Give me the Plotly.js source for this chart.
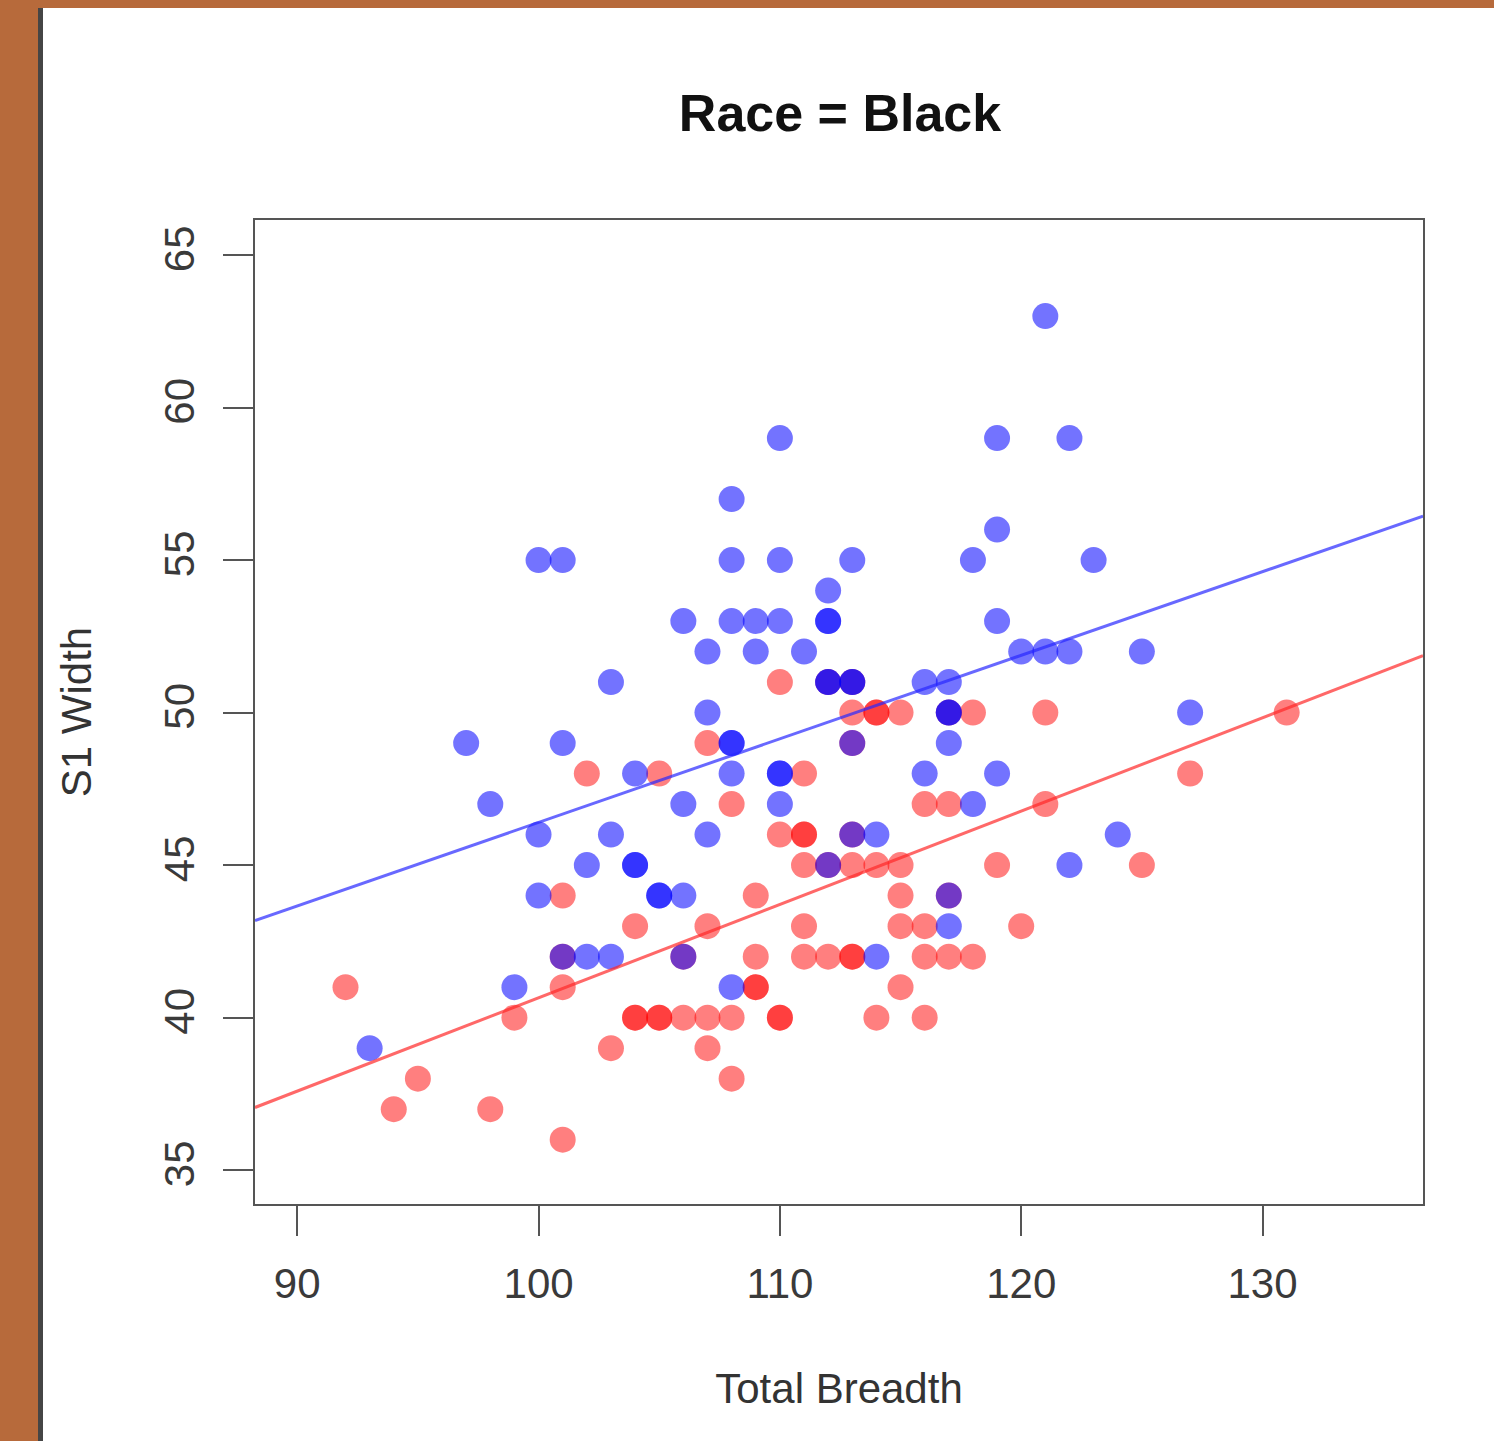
<!DOCTYPE html>
<html><head><meta charset="utf-8">
<script src="https://cdn.plot.ly/plotly-3.0.1.min.js"></script>
<style>
html,body{margin:0;padding:0;width:1494px;height:1441px;overflow:hidden;background:#b76a3b;}
#panel{position:absolute;left:38px;top:8px;width:1456px;height:1433px;background:#fff;border-left:5px solid #454545;box-sizing:border-box;}
#chart{position:absolute;left:0;top:0;width:1494px;height:1441px;}
</style></head><body>
<div id="panel"></div>
<div id="chart"></div>
<script>
// Red group (Total Breadth, S1 Width)
var redX = [110,112,113,
  113,114,114,115,117,118,121,131,
  107,113,
  102,105,111,127,
  108,116,117,121,
  110,111,111,113,
  111,112,113,114,115,119,125,
  101,109,115,117,
  104,107,111,115,116,120,
  101,106,109,111,112,113,113,116,117,118,
  92,101,109,109,115,
  99,104,104,105,105,106,107,108,110,110,114,116,
  103,107,
  95,108,
  94,98,
  101];
var redY = [51,51,51,
  50,50,50,50,50,50,50,50,
  49,49,
  48,48,48,48,
  47,47,47,47,
  46,46,46,46,
  45,45,45,45,45,45,45,
  44,44,44,44,
  43,43,43,43,43,43,
  42,42,42,42,42,42,42,42,42,42,
  41,41,41,41,41,
  40,40,40,40,40,40,40,40,40,40,40,40,
  39,39,
  38,38,
  37,37,
  36];
// Blue group
var blueX = [121,
  110,119,122,
  108,
  119,
  100,101,108,110,113,118,123,
  112,
  106,108,109,110,112,112,119,
  107,109,111,120,121,122,125,
  103,112,112,113,113,116,117,
  107,117,117,127,
  97,101,108,108,113,117,
  104,108,110,110,116,119,
  98,106,110,118,
  100,103,107,113,114,124,
  102,104,104,112,122,
  100,105,105,106,117,
  117,
  101,102,103,106,114,
  99,108,
  93];
var blueY = [63,
  59,59,59,
  57,
  56,
  55,55,55,55,55,55,55,
  54,
  53,53,53,53,53,53,53,
  52,52,52,52,52,52,52,
  51,51,51,51,51,51,51,
  50,50,50,50,
  49,49,49,49,49,49,
  48,48,48,48,48,48,
  47,47,47,47,
  46,46,46,46,46,46,
  45,45,45,45,45,
  44,44,44,44,44,
  43,
  42,42,42,42,42,
  41,41,
  39];
// Fitted lines (intercept, slope)
var blueFit = {intercept: 19.0, slope: 0.274};
var redFit = {intercept: 10.05, slope: 0.306};
var xTicks = [90,100,110,120,130];
var yTicks = [35,40,45,50,55,60,65];

var xRange = [88.25, 136.65];
var yRange = [33.89, 66.15];

function fitLine(f){ return xRange.map(function(x){ return f.intercept + f.slope*x; }); }

var font = "'Liberation Sans', Arial, Helvetica, sans-serif";
var traces = [
  {type:'scatter', mode:'markers', x:redX, y:redY, name:'Red',
   marker:{size:26, color:'rgba(255,0,0,0.5)', line:{width:0}}},
  {type:'scatter', mode:'markers', x:blueX, y:blueY, name:'Blue',
   marker:{size:26, color:'rgba(0,0,255,0.55)', line:{width:0}}},
  {type:'scatter', mode:'lines', x:xRange, y:fitLine(blueFit),
   line:{color:'rgba(40,40,255,0.7)', width:3}},
  {type:'scatter', mode:'lines', x:xRange, y:fitLine(redFit),
   line:{color:'rgba(255,40,40,0.7)', width:3}}
];
var axisCommon = {
  showgrid:false, zeroline:false, showline:true, mirror:true,
  linecolor:'#555', linewidth:2, ticks:'outside', ticklen:30, tickwidth:2, tickcolor:'#555',
  ticklabelstandoff:12,
  tickfont:{family:font, size:42, color:'#3a3a3a'}
};
var layout = {
  width:1494, height:1441,
  paper_bgcolor:'rgba(0,0,0,0)', plot_bgcolor:'#fff',
  margin:{l:255, r:71, t:220, b:237, autoexpand:false},
  showlegend:false,
  title:{text:'<b>Race = Black</b>', xref:'container', yref:'container',
    x:840/1494, y:1-113/1441, xanchor:'center', yanchor:'middle',
    font:{family:font, size:52, color:'#111'}},
  xaxis: Object.assign({}, axisCommon, {range:xRange, tickvals:xTicks,
    title:{text:'Total Breadth', standoff:67, font:{family:font, size:42, color:'#333'}}}),
  yaxis: Object.assign({}, axisCommon, {range:yRange, tickvals:yTicks, tickangle:-90,
    title:{text:'S1 Width', standoff:52, font:{family:font, size:42, color:'#333'}}})
};
Plotly.newPlot('chart', traces, layout, {displayModeBar:false, staticPlot:true});
</script>
</body></html>
